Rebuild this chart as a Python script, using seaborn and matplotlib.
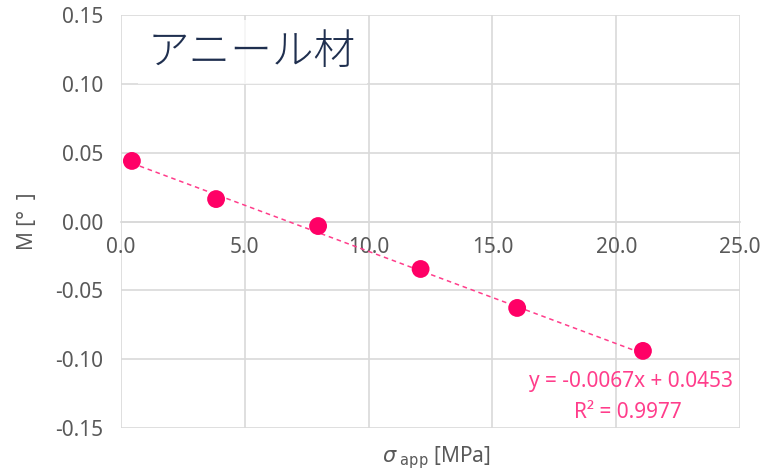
import matplotlib
matplotlib.use("Agg")
import matplotlib.pyplot as plt
import seaborn as sns
import pandas as pd
import numpy as np

# Measured points: applied stress vs. M
stress_mpa = [0.44, 3.84, 7.96, 12.1, 16.0, 21.08]
m_deg = [0.044, 0.0163, -0.0033, -0.0345, -0.0628, -0.094]

# Linear trendline coefficients and fit quality
slope = -0.0067
intercept = 0.0453
r_squared = 0.9977

x_ticks = [0.0, 5.0, 10.0, 15.0, 20.0, 25.0]
y_ticks = [-0.15, -0.10, -0.05, 0.00, 0.05, 0.10, 0.15]

sns.set_theme(style="white")
plt.rcParams["font.family"] = ["Noto Sans", "Noto Sans CJK JP", "DejaVu Sans"]

W, H = 761, 471
tick_color = "#595959"
grid_color = "#d9d9d9"
point_color = "#ff0066"
fit_color = "#ff3d8b"

fig, ax = plt.subplots(figsize=(W / 100, H / 100), dpi=100)
fig.subplots_adjust(left=121 / W, right=740 / W, top=1 - 15 / H, bottom=1 - 428 / H)

df = pd.DataFrame({"stress": stress_mpa, "M": m_deg})
fit_x = np.array([stress_mpa[0], stress_mpa[-1]])
fit_df = pd.DataFrame({"stress": fit_x, "M": slope * fit_x + intercept})

sns.lineplot(data=fit_df, x="stress", y="M", ax=ax, color=fit_color,
             linestyle=(0, (3, 2.5)), linewidth=1.1, zorder=3)
sns.scatterplot(data=df, x="stress", y="M", ax=ax, color=point_color,
                s=165, edgecolor="none", zorder=4)

ax.set_xlim(0, 25)
ax.set_ylim(-0.15, 0.15)
ax.set_xticks(x_ticks)
ax.set_yticks(y_ticks)
ax.set_xticklabels([f"{v:.1f}" for v in x_ticks])
ax.set_yticklabels([f"{v:.2f}" for v in y_ticks])
ax.grid(True, color=grid_color, linewidth=1.2)
ax.set_axisbelow(True)

for side in ["top", "right", "left"]:
    ax.spines[side].set_visible(False)
ax.spines["bottom"].set_position(("data", 0))
ax.spines["bottom"].set_color(grid_color)
ax.spines["bottom"].set_linewidth(1.2)

ax.tick_params(axis="x", length=0, pad=11, labelsize=15, labelcolor=tick_color)
ax.tick_params(axis="y", length=0, pad=13, labelsize=15, labelcolor=tick_color)
for lab in ax.get_xticklabels() + ax.get_yticklabels():
    lab.set_clip_on(False)

ax.set_xlabel("")
ax.set_ylabel("M [°  ]", fontsize=15, color=tick_color, labelpad=12)

fig.text(436 / W, 1 - 458 / H, r"$\sigma_{\ \mathrm{app}}$ [MPa]",
         ha="center", va="center", fontsize=15, color=tick_color)

fig.text(733 / W, 1 - 381 / H, f"y = {slope:.4f}x + {intercept:.4f}",
         ha="right", va="center", fontsize=15, color=fit_color)
fig.text(628 / W, 1 - 413 / H, f"R² = {r_squared:.4f}",
         ha="center", va="center", fontsize=15, color=fit_color)

# Panel title in a white box over the grid
fig.text(148 / W, 1 - 52 / H, "アニール材", ha="left", va="center",
         fontsize=30, color="#1f2f4f", family="Noto Sans CJK JP",
         fontweight="light",
         bbox=dict(facecolor="white", edgecolor="none", alpha=0.75,
                   boxstyle="square,pad=0.25"))

fig.savefig("out.png", dpi=100)
